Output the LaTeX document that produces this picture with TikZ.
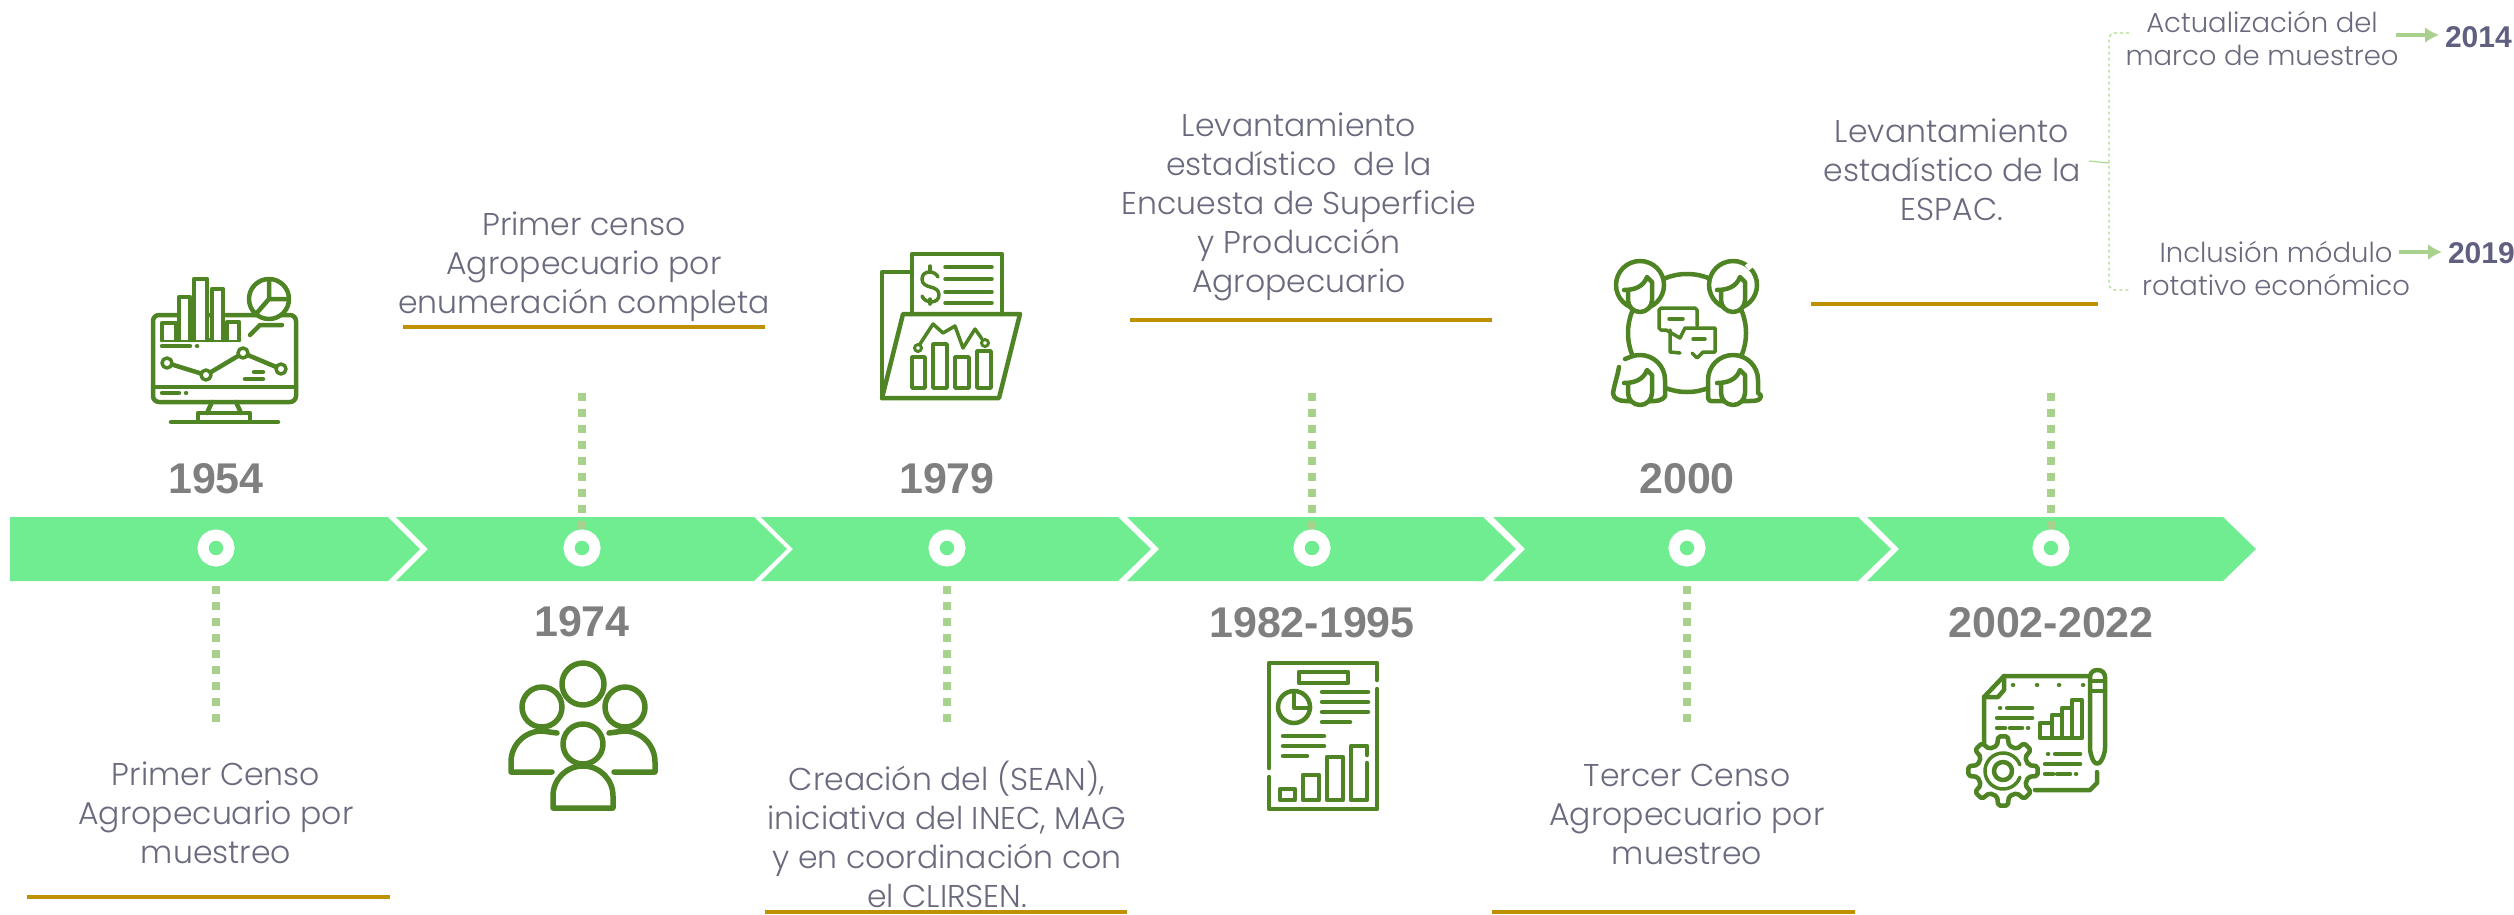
\documentclass[tikz,border=0pt]{standalone}
\usepackage{fontspec}
\setmainfont{Poppins}[UprightFont=* Light,BoldFont=* Medium]
\newfontfamily\yearfont{Liberation Sans}[Scale=1]
\usetikzlibrary{arrows.meta}
\definecolor{barcol}{HTML}{70ED91}
\definecolor{stemcol}{HTML}{A9D18E}
\definecolor{goldcol}{HTML}{BF9000}
\definecolor{iconcol}{HTML}{4E8423}
\definecolor{txtcol}{HTML}{6A6A7E}
\definecolor{yearcol}{HTML}{7F7F7F}
\definecolor{datecol}{HTML}{5F5F80}
\definecolor{bracecol}{HTML}{A6DC8C}
\tikzset{
	segm/.style={fill=barcol,draw=none},
	stem/.style={stemcol,line width=8,dash pattern=on 8 off 8},
	goldline/.style={goldcol,line width=4},
	txt/.style={text=txtcol,align=center,inner sep=0,font=\fontsize{31.5}{39}\selectfont},
	smalltxt/.style={text=txtcol,align=center,inner sep=0,font=\fontsize{27.5}{33}\selectfont},
	yeartxt/.style={text=yearcol,inner sep=0,font=\yearfont\bfseries\fontsize{43}{43}\selectfont},
	datetxt/.style={text=datecol,inner sep=0,outer sep=6,anchor=west,font=\yearfont\bfseries\fontsize{30}{30}\selectfont},
	icon/.style={iconcol,line width=4.5,line cap=round,line join=round},
	ring/.style={circle,fill=barcol,draw=white,line width=11,minimum size=26,inner sep=0},
	facepic/.pic={
		\draw[icon,fill=white] (-12,5) -- (-12,15) to [out=-90,in=180] (0,27) to [out=0,in=-90] (12,15) -- (12,-3) -- (7,-8) to [out=-110,in=0] (-16,5);
	}
}
\begin{document}
\begin{tikzpicture}[x=1pt,y=-1pt]
	\useasboundingbox (0,0) rectangle (2514,914);

	% stems below the circles
	\foreach \x/\n in {216/a,947/c,1687/e} {
		\coordinate (st\n) at (\x,586);
		\coordinate (en\n) at (\x,722);
		\draw[stem] (st\n) -- (en\n);
	}
	% arrow bar
	\fill[segm] (10,517) -- (388,517) -- (420,549) -- (388,581) -- (10,581) -- cycle;
	\foreach \xa/\xb in {396/754,761/1118,1127/1483,1493/1858,1867/2223}
		\fill[segm] (\xa,517) -- (\xb,517) -- (\xb+33,549) -- (\xb,581) -- (\xa,581) -- (\xa+32,549) -- cycle;
	% stems above the circles
	\foreach \x/\n in {582/b,1312/d,2051/f} {
		\coordinate (st\n) at (\x,393);
		\coordinate (en\n) at (\x,530);
		\draw[stem] (st\n) -- (en\n);
	}
	\foreach \x/\n in {216/a,582/b,947/c,1312/d,1687/e,2051/f}
		\node[ring] (dot\n) at (\x,548) {};

	% years
	\node[yeartxt] (yra) at (216,479) {1954};
	\node[yeartxt] (yrb) at (582,622) {1974};
	\node[yeartxt] (yrc) at (947,479) {1979};
	\node[yeartxt] (yrd) at (1312,623) {1982-1995};
	\node[yeartxt] (yre) at (1687,479) {2000};
	\node[yeartxt] (yrf) at (2051,623) {2002-2022};

	% gold rules
	\draw[goldline] (27,897) -- (390,897);
	\draw[goldline] (403,327) -- (765,327);
	\draw[goldline] (765,912) -- (1127,912);
	\draw[goldline] (1130,320) -- (1492,320);
	\draw[goldline] (1492,912) -- (1855,912);
	\draw[goldline] (1811,304) -- (2098,304);

	% texts
	\node[txt] (txa) at (216,813) {Primer Censo\\Agropecuario por\\muestreo};
	\node[txt] (txb) at (584,267) {Primer censo\\Agropecuario por\\enumeración completa};
	\node[txt] (txc) at (947,834) {Creación del (SEAN),\\iniciativa del INEC, MAG\\y en coordinación con\\el CLIRSEN.};
	\node[txt] (txd) at (1299,207) {Levantamiento\\estadístico\ \ de la\\Encuesta de Superficie\\y Producción\\Agropecuario};
	\node[txt] (txe) at (1687,814) {Tercer Censo\\Agropecuario por\\muestreo};
	\node[txt] (txf) at (1952,170) {Levantamiento\\estadístico de la\\ESPAC.};
	\node[smalltxt] (txg) at (2262,38) {Actualización del\\marco de muestreo};
	\node[smalltxt] (txh) at (2276,268) {Inclusión módulo\\rotativo económico};

	% dates at the right
	\node[datetxt] (dtg) at (2439,37) {2014};
	\node[datetxt] (dth) at (2442,253) {2019};
	\coordinate (arg) at (2396,35);
	\coordinate (arh) at (2399,252);
	\draw[stemcol,line width=3.5,arrows={-Latex[length=14,width=16]}] (arg) -- (dtg.west |- arg);
	\draw[stemcol,line width=3.5,arrows={-Latex[length=14,width=16]}] (arh) -- (dth.west |- arh);

	% brace
	\coordinate (bra) at (2129,33);
	\coordinate (brb) at (2129,290);
	\coordinate (brc) at (2089,161);
	\coordinate (brd) at (2109,163);
	\draw[bracecol,line width=1.2,dashed,rounded corners=6] (bra) -- (2109,33) -- (2109,290) -- (brb);
	\draw[bracecol,line width=1.2] (brc) -- (brd);

	% monitor
	\draw[icon,rounded corners=6] (153,315) rectangle (296,402);
	\draw[icon] (153,387) -- (296,387);
	\draw[icon] (212,402) -- (207,413) (236,402) -- (241,413);
	\draw[icon] (198,420) -- (198,413) -- (250,413) -- (250,420);
	\draw[icon] (171,422) -- (278,422);
	\draw[icon] (162,340) -- (239,340);
	\foreach \xa/\xb/\yt in {162/176/323,179/190/297,194/207/279,212/223/289,227/239/322}
		\draw[icon,fill=white] (\xa,340) -- (\xa,\yt) -- (\xb,\yt) -- (\xb,340);
	\draw[icon,fill=white] (269,299) circle [radius=20];
	\draw[icon] (288,299) -- (269,299) -- (269,280) (269,299) -- (255,315);
	\draw[icon] (250,335) -- (260,325) -- (282,325);
	\draw[icon] (162,346) -- (190,346) (197,346) -- (197.1,346);
	\draw[icon] (167,363) -- (206,375) -- (243,353) -- (281,369);
	\foreach \x/\y in {167/363,206/375,243/353,281/369}
		\draw[icon,line width=3.5,fill=white] (\x,\y) circle [radius=5];
	\draw[icon] (254,372) -- (263,372) (245,379) -- (263,379);
	\draw[icon] (162,393) -- (179,393) (186,393) -- (186.1,393);

	% people
	\begin{scope}[line width=5.5]
	\draw[icon,line width=5.5] (583,684) circle [radius=21];
	\draw[icon,line width=5.5] (542,707) circle [radius=20];
	\draw[icon,line width=5.5] (625,707) circle [radius=20];
	\draw[icon,line width=5.5] (552,772) -- (511,772) -- (511,762) to [out=90,in=180] (542,731) -- (557,733);
	\draw[icon,line width=5.5] (614,772) -- (655,772) -- (655,762) to [out=90,in=0] (624,731) -- (609,733);
	\draw[icon,line width=5.5] (583,744) circle [radius=20];
	\draw[icon,line width=5.5] (553,808) -- (553,796) to [out=90,in=180] (583,766) to [out=0,in=90] (613,796) -- (613,808) -- cycle;
	\end{scope}

	% folder
	\draw[icon] (912,314) -- (912,254) -- (1002,254) -- (1002,314);
	\draw[icon] (912,272) -- (882,272) -- (882,398);
	\draw[icon] (903,314) -- (1020,314) -- (999,398) -- (882,398) -- cycle;
	\draw[icon,line width=3.5] (938,277) .. controls (935,270) and (922,270) .. (922,279) .. controls (922,290) and (939,284) .. (939,295) .. controls (939,304) and (925,304) .. (922,296);
	\draw[icon,line width=3.5] (930,266) -- (930,271) (930,299) -- (930,304);
	\foreach \y in {267,279,292,303}
		\draw[icon,line width=3.5] (945,\y) -- (992,\y);
	\foreach \xa/\xb/\yt in {912/925/357,933/947/344,955/969/357,977/991/351}
		\draw[icon,line width=3.5] (\xa,\yt) rectangle (\xb,388);
	\draw[icon,line width=3.5] (920,344) -- (933,324) -- (943,333) -- (955,326) -- (963,348) -- (975,329) -- (982,339);
	\draw[icon,line width=3] (918,348) circle [radius=3.5] (985,343) circle [radius=3.5];

	% meeting
	\draw[icon] (1687,333) circle [radius=59];
	\foreach \x in {1640,1733} {
		\draw[icon,fill=white] (\x,285) circle [radius=24];
		\path (\x,285) pic {facepic};
	}
	\draw[white,line width=8] (1748,263) -- (1752,268);
	\draw[icon,fill=white] (1625,359) to [out=20,in=180] (1640,355) to [out=0,in=90] (1665,380) -- (1665,393) to [out=-60,in=0] (1655,401) -- (1625,401) to [out=180,in=-90] (1613,393) to [out=80,in=-100] (1619,367);
	\draw[icon,fill=white] (1711,401) to [out=180,in=-90] (1708,393) -- (1708,380) to [out=90,in=180] (1733,355) to [out=0,in=90] (1758,380) -- (1758,393) to [out=-60,in=90] (1761,396) to [out=-90,in=0] (1750,401) -- cycle;
	\foreach \x in {1640,1733}
		\path (\x,378) pic {facepic};
	\draw[icon,line width=3.5] (1666,330) -- (1661,330) -- (1659,328) -- (1659,310) -- (1661,308) -- (1695,308) -- (1697,310) -- (1697,326);
	\draw[icon,line width=3.5] (1666,330) -- (1680,338) -- (1685,328) -- (1715,328) -- (1715,352) -- (1703,352) -- (1697,358) -- (1692,353);
	\draw[icon,line width=3.5] (1670,330) -- (1670,352) -- (1680,353);
	\draw[icon,line width=3.5] (1669,319) -- (1683,319) (1693,339) -- (1705,339);

	% report
	\draw[icon] (1377,680) -- (1377,663) -- (1269,663) -- (1269,768);
	\draw[icon] (1269,777) -- (1269,809) -- (1377,809) -- (1377,689);
	\draw[icon] (1299,672) rectangle (1348,683);
	\draw[icon] (1294,707) circle [radius=16];
	\draw[icon] (1294,692) -- (1294,708) -- (1310,708);
	\foreach \y in {692,702,712}
		\draw[icon] (1322,\y) -- (1368,\y);
	\draw[icon] (1322,722) -- (1350,722);
	\draw[icon] (1283,736) -- (1324,736) (1283,746) -- (1324,746) (1283,756) -- (1307,756);
	\draw[icon] (1280,789) rectangle (1295,800);
	\draw[icon] (1303,775) rectangle (1319,800);
	\draw[icon] (1327,757) rectangle (1343,800);
	\draw[icon] (1367,755) -- (1367,746) -- (1351,746) -- (1351,800) -- (1367,800) -- (1367,763);

	% sheet and gear
	\draw[icon] (1984,745) -- (1984,697) -- (2004,676) -- (2088,676);
	\draw[icon] (2004,676) -- (2004,690) -- (1998,697) -- (1984,697);
	\foreach \x in {2013,2037,2059,2083}
		\draw[icon] (\x,685) -- (\x+0.1,685);
	\draw[icon,rounded corners=7] (2097,767) -- (2090,755) -- (2090,670) -- (2105,670) -- (2105,755) -- cycle;
	\draw[icon] (2090,681) -- (2105,681) (2090,691) -- (2105,691);
	\draw[icon] (2097,772) -- (2097,783) -- (2090,790) -- (2035,790);
	\draw[icon] (2000,708) -- (2000.1,708) (2007,708) -- (2032,708) (1997,718) -- (2032,718);
	\draw[icon] (1997,728) -- (2005,728) (2010,728) -- (2022,728) (2028,728) -- (2028.1,728);
	\draw[icon] (2040,723) rectangle (2052,738);
	\draw[icon] (2052,715) rectangle (2062,738);
	\draw[icon] (2062,708) rectangle (2072,738);
	\draw[icon] (2072,700) rectangle (2082,738);
	\draw[icon] (2048,754) -- (2048.1,754) (2055,754) -- (2080,754) (2045,764) -- (2080,764);
	\draw[icon] (2045,774) -- (2053,774) (2057,774) -- (2070,774) (2076,774) -- (2076.1,774);
	\begin{scope}[shift={(2003,771)}]
		\draw[icon,fill=white,rounded corners=2] (-13:26) \foreach \a in {0,45,...,315} { -- ({\a-13}:26) -- ({\a-8}:35) -- ({\a+8}:35) -- ({\a+13}:26) } -- cycle;
		\draw[icon,line width=3.5] (20:18) arc [start angle=20,end angle=340,radius=18];
		\draw[icon] (0,0) circle [radius=9];
	\end{scope}
\end{tikzpicture}
\end{document}
